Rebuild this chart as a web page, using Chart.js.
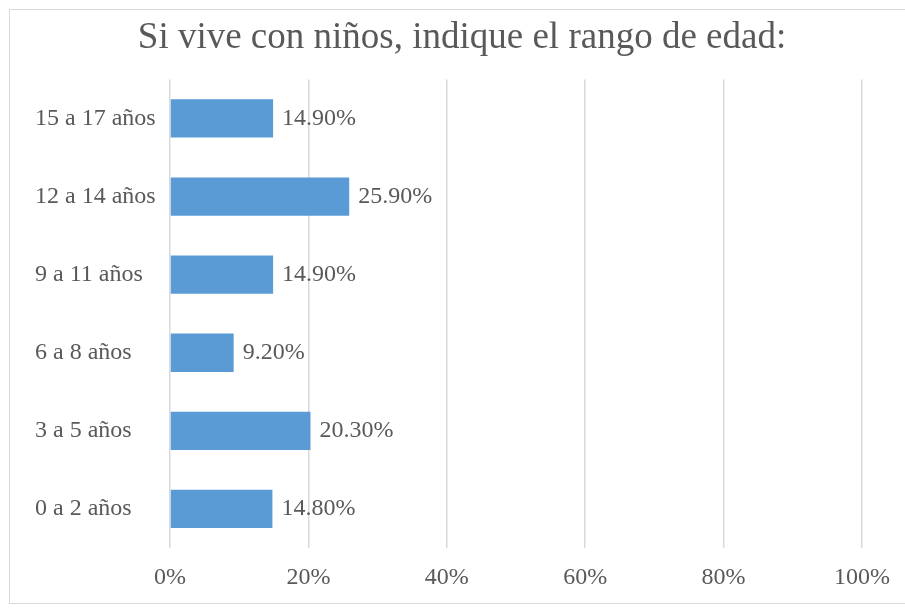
<!DOCTYPE html>
<html lang="es">
<head>
<meta charset="utf-8">
<title>Rango de edad de los niños</title>
<script src="https://cdn.jsdelivr.net/npm/chart.js@4.4.0/dist/chart.umd.min.js"></script>
<style>
  html, body { margin: 0; padding: 0; background: #fff; overflow: hidden; }
  #frame {
    position: absolute; left: 9px; top: 9px; width: 910px; height: 595px;
    border: 1px solid #d9d9d9; box-sizing: border-box;
  }
  #wrap { position: absolute; left: 0; top: 0; width: 905px; height: 609px; }
</style>
</head>
<body>
<div id="frame"></div>
<div id="wrap"><canvas id="ageChart"></canvas></div>
<script>
// Age ranges, top to bottom
const ageRanges = ['15 a 17 años', '12 a 14 años', '9 a 11 años', '6 a 8 años', '3 a 5 años', '0 a 2 años'];
const percentages = [14.9, 25.9, 14.9, 9.2, 20.3, 14.8];
const xTicks = [0, 20, 40, 60, 80, 100];

const serif = '"Liberation Serif", "Times New Roman", serif';
const textColor = '#595959';

// Category labels sit further left than the padded box the title is centred in
const categoryLabelLeft = {
  id: 'categoryLabelLeft',
  afterLayout(chart) {
    chart.scales.y.left = 35;
  }
};

// Writes the percentage just past the end of each bar
const barValueLabels = {
  id: 'barValueLabels',
  afterDatasetsDraw(chart) {
    const ctx = chart.ctx;
    const meta = chart.getDatasetMeta(0);
    ctx.save();
    ctx.font = '24px ' + serif;
    ctx.fillStyle = textColor;
    ctx.textAlign = 'left';
    ctx.textBaseline = 'middle';
    meta.data.forEach((bar, i) => {
      ctx.fillText(percentages[i].toFixed(2) + '%', bar.x + 9, bar.y);
    });
    ctx.restore();
  }
};

new Chart(document.getElementById('ageChart'), {
  type: 'bar',
  data: {
    labels: ageRanges,
    datasets: [{
      data: percentages,
      backgroundColor: '#5b9bd5',
      borderWidth: 0,
      categoryPercentage: 1,
      barPercentage: 0.49
    }]
  },
  options: {
    indexAxis: 'y',
    responsive: true,
    maintainAspectRatio: false,
    animation: false,
    layout: { padding: { left: 62, right: 43, top: 0, bottom: 0 } },
    plugins: {
      legend: { display: false },
      tooltip: { enabled: false },
      title: {
        display: true,
        text: 'Si vive con niños, indique el rango de edad:',
        color: textColor,
        font: { family: serif, size: 37, weight: 'normal' },
        padding: { top: 16, bottom: 19 }
      }
    },
    scales: {
      x: {
        min: 0,
        max: 100,
        afterBuildTicks(scale) { scale.ticks = xTicks.map(v => ({ value: v })); },
        afterFit(scale) { scale.height = 61; },
        border: { display: false },
        grid: { color: '#d9d9d9', lineWidth: 1.5, drawTicks: false },
        ticks: {
          color: textColor,
          padding: 15,
          font: { family: serif, size: 24 },
          callback: v => v + '%'
        }
      },
      y: {
        afterFit(scale) { scale.width = 108; },
        border: { display: false },
        grid: { display: false },
        ticks: {
          color: textColor,
          crossAlign: 'far',
          font: { family: serif, size: 24 }
        }
      }
    }
  },
  plugins: [categoryLabelLeft, barValueLabels]
});
</script>
</body>
</html>
